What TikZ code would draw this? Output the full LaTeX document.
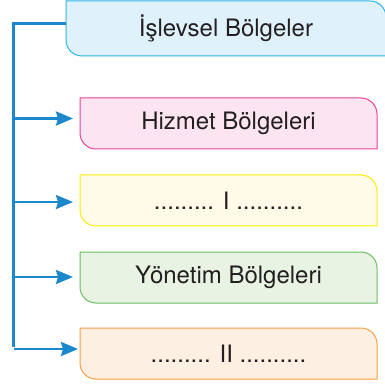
\documentclass[tikz,border=0pt]{standalone}
\usepackage{fontspec}
\setmainfont{TeX Gyre Heros}
\usetikzlibrary{arrows.meta,backgrounds}

\definecolor{hat}{HTML}{1B87CC}
\definecolor{metin}{HTML}{231F20}
\definecolor{maviK}{HTML}{2BB5E8}\definecolor{maviD}{HTML}{DFF2FB}
\definecolor{pembeK}{HTML}{E8419A}\definecolor{pembeD}{HTML}{FCE5F0}
\definecolor{sariK}{HTML}{FFEC00}\definecolor{sariD}{HTML}{FFFBE8}
\definecolor{yesilK}{HTML}{6ABF5E}\definecolor{yesilD}{HTML}{E8F3E3}
\definecolor{turuncuK}{HTML}{F6A042}\definecolor{turuncuD}{HTML}{FDEFE1}

% box outline: rounded top right and bottom left
\newcommand{\bolgekutu}[3]{%
  \begin{scope}[on background layer]
    \filldraw[draw=#2, fill=#3, line width=1pt]
      (#1.north west) -- ([xshift=-16pt]#1.north east)
      arc[start angle=90, end angle=0, radius=16pt]
      -- (#1.south east) -- ([xshift=16pt]#1.south west)
      arc[start angle=270, end angle=180, radius=16pt] -- cycle;
  \end{scope}}

\begin{document}
\begin{tikzpicture}[x=1pt, y=1pt,
  bolge/.style={minimum width=297pt, minimum height=51pt, inner sep=0pt, outer sep=0pt, text=metin, font=\fontsize{24}{28}\selectfont},
  kol/.style={draw=hat, line width=2.5pt},
  ok/.style={kol, -{Stealth[length=17pt, width=14pt, inset=2pt]}}]
  \useasboundingbox (0,0) rectangle (385,383);

  \node[bolge, minimum width=320pt, minimum height=55pt] (islevsel) at (226,354.5) {İşlevsel Bölgeler};
  \node[bolge] (hizmet) at (228.5,259.5) {Hizmet Bölgeleri};
  \node[bolge] (bir) at (228.5,182.5) {......... I ..........};
  \node[bolge] (yonetim) at (228.5,105.5) {Yönetim Bölgeleri};
  \node[bolge] (iki) at (228.5,29.5) {......... II ..........};

  \bolgekutu{islevsel}{maviK}{maviD}
  \bolgekutu{hizmet}{pembeK}{pembeD}
  \bolgekutu{bir}{sariK}{sariD}
  \bolgekutu{yonetim}{yesilK}{yesilD}
  \bolgekutu{iki}{turuncuK}{turuncuD}

  \coordinate (kok) at (13.5,359.5);
  \coordinate (k1) at (13.5,264.5);
  \coordinate (k2) at (13.5,181);
  \coordinate (k3) at (13.5,106);
  \coordinate (k4) at (13.5,34);

  \draw[kol, shorten >=2pt] (kok -| islevsel.west) -- (kok) -- (k4);
  \draw[ok, shorten >=7pt] (k1) -- (k1 -| hizmet.west);
  \draw[ok, shorten >=7pt] (k2) -- (k2 -| bir.west);
  \draw[ok, shorten >=7pt] (k3) -- (k3 -| yonetim.west);
  \draw[ok, shorten >=2pt] (k4) -- (k4 -| iki.west);
\end{tikzpicture}
\end{document}
